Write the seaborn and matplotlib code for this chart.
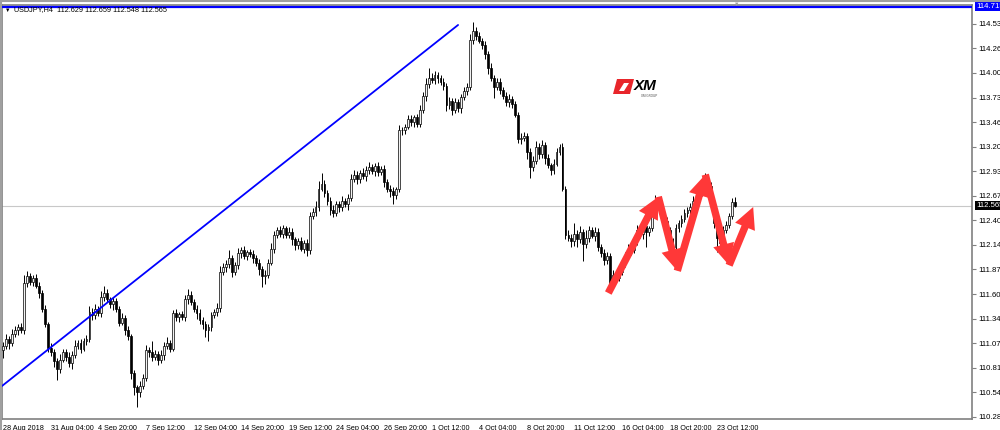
import pandas as pd
import seaborn as sns
import matplotlib.pyplot as plt
from matplotlib.lines import Line2D
from matplotlib.patches import Polygon

# USDJPY H4 closes (one value per bar)
closes = [
    111.05, 111.12, 111.08, 111.18, 111.22, 111.25, 111.22, 111.73, 111.80, 111.74,
    111.78, 111.70, 111.62, 111.45, 111.28, 111.03, 110.98, 110.88, 110.80, 110.90,
    110.98, 110.93, 110.86, 110.95, 111.05, 111.08, 111.02, 111.10, 111.12, 111.42,
    111.38, 111.45, 111.40, 111.58, 111.62, 111.55, 111.50, 111.53, 111.45, 111.30,
    111.35, 111.22, 111.15, 110.75, 110.60, 110.55, 110.62, 110.70, 111.00, 110.98,
    110.93, 110.96, 110.90, 110.95, 111.05, 111.08, 111.02, 111.40, 111.36, 111.39,
    111.36, 111.55, 111.60, 111.52, 111.45, 111.40, 111.33, 111.28, 111.22, 111.25,
    111.38, 111.42, 111.46, 111.85, 111.90, 111.93, 112.00, 111.85, 111.92, 112.05,
    112.08, 112.02, 112.06, 112.04, 112.00, 111.95, 111.88, 111.80, 111.82, 111.95,
    112.10, 112.25, 112.30, 112.26, 112.32, 112.25, 112.28, 112.20, 112.14, 112.18,
    112.10, 112.16, 112.08, 112.45, 112.50, 112.55, 112.75, 112.80, 112.70, 112.62,
    112.52, 112.48, 112.58, 112.55, 112.62, 112.58, 112.65, 112.85, 112.90, 112.85,
    112.92, 112.88, 112.95, 112.98, 112.94, 112.99, 112.93, 112.96, 112.82, 112.75,
    112.72, 112.68, 112.74, 113.38, 113.38, 113.42, 113.50, 113.47, 113.52, 113.45,
    113.60, 113.75, 113.88, 113.95, 113.92, 113.98, 113.94, 113.90, 113.86, 113.65,
    113.70, 113.60, 113.68, 113.62, 113.74, 113.80, 113.85, 114.36, 114.45, 114.40,
    114.35, 114.30, 114.20, 114.05, 113.95, 113.85, 113.90, 113.82, 113.75, 113.68,
    113.72, 113.66, 113.55, 113.28, 113.30, 113.32, 113.15, 112.98, 113.05, 113.20,
    113.12, 113.22, 113.08, 113.00, 112.95, 113.02, 113.15, 113.20, 112.75, 112.25,
    112.22, 112.18, 112.26, 112.20, 112.28, 112.15, 112.22, 112.30, 112.24, 112.28,
    112.12, 112.05, 111.98, 112.02, 111.70, 111.82, 111.78, 111.85, 111.95, 112.02,
    112.10, 112.08, 112.18, 112.30, 112.26, 112.35, 112.28, 112.32, 112.50, 112.62,
    112.58, 112.45, 112.40, 112.30, 112.18, 112.12, 112.32, 112.38, 112.42, 112.48,
    112.52, 112.55, 112.62, 112.66, 112.70, 112.76, 112.82, 112.78, 112.62, 112.38,
    112.22, 112.16, 112.30, 112.36, 112.45, 112.60, 112.565,
]
first_open = 111.00

# wick lengths in hundredths of a yen
wick_up = [
    4, 6, 3, 5, 4, 3, 5, 8, 6, 4,
    3, 5, 4, 3, 4, 3, 5, 3, 4, 6,
    4, 3, 5, 4, 6, 3, 4, 3, 5, 6,
    4, 5, 3, 6, 8, 4, 3, 5, 4, 3,
    5, 3, 4, 3, 4, 3, 5, 4, 6, 4,
    12, 4, 3, 5, 4, 6, 3, 4, 5, 3,
    4, 5, 6, 4, 3, 4, 5, 3, 4, 3,
    4, 3, 5, 6, 4, 5, 8, 3, 4, 6,
    4, 5, 3, 4, 5, 3, 4, 3, 5, 4,
    6, 4, 3, 5, 4, 3, 5, 4, 3, 4,
    5, 3, 4, 5, 4, 6, 8, 12, 4, 3,
    4, 5, 3, 4, 5, 3, 4, 6, 5, 4,
    3, 5, 4, 6, 3, 4, 5, 3, 4, 3,
    4, 5, 3, 6, 4, 3, 5, 4, 3, 4,
    5, 4, 6, 10, 5, 4, 3, 4, 5, 3,
    4, 3, 5, 4, 3, 5, 4, 6, 10, 5,
    4, 3, 5, 4, 6, 3, 4, 5, 3, 4,
    5, 3, 4, 3, 5, 4, 3, 4, 5, 6,
    4, 5, 3, 4, 3, 5, 4, 3, 4, 3,
    5, 4, 12, 4, 6, 3, 8, 4, 3, 5,
    4, 3, 5, 4, 3, 5, 4, 6, 3, 4,
    5, 3, 4, 6, 3, 5, 4, 3, 5, 6,
    4, 3, 5, 4, 3, 4, 5, 3, 4, 5,
    3, 4, 5, 3, 4, 6, 10, 5, 4, 3,
    4, 3, 5, 4, 3, 5, 6,
]
wick_dn = [
    8, 4, 6, 3, 4, 5, 3, 4, 5, 3,
    4, 3, 5, 4, 3, 5, 4, 6, 12, 4,
    3, 5, 4, 6, 3, 4, 5, 3, 4, 3,
    5, 4, 3, 4, 5, 3, 4, 6, 3, 4,
    3, 5, 4, 6, 8, 16, 5, 4, 3, 5,
    4, 3, 6, 4, 5, 3, 4, 3, 4, 5,
    3, 4, 5, 3, 4, 6, 4, 5, 8, 12,
    4, 3, 5, 4, 3, 5, 4, 6, 3, 4,
    5, 3, 4, 3, 5, 4, 6, 12, 8, 4,
    3, 5, 4, 3, 5, 4, 3, 6, 5, 4,
    3, 5, 6, 4, 3, 5, 4, 3, 4, 5,
    6, 4, 3, 5, 4, 3, 6, 4, 3, 5,
    4, 3, 5, 4, 3, 5, 4, 3, 5, 4,
    6, 10, 4, 3, 5, 4, 3, 4, 5, 3,
    4, 3, 5, 4, 3, 4, 5, 3, 4, 6,
    4, 5, 3, 4, 5, 3, 4, 3, 5, 4,
    3, 4, 5, 6, 4, 12, 4, 5, 3, 4,
    5, 4, 3, 4, 5, 4, 8, 12, 4, 3,
    5, 4, 6, 3, 5, 4, 3, 4, 3, 5,
    4, 6, 5, 8, 4, 18, 4, 5, 3, 6,
    5, 4, 6, 5, 6, 4, 5, 3, 4, 5,
    4, 5, 3, 4, 5, 6, 16, 4, 3, 4,
    5, 4, 3, 6, 4, 5, 3, 4, 5, 3,
    4, 5, 3, 4, 5, 3, 4, 5, 4, 6,
    16, 4, 5, 3, 4, 3, 2,
]

time_labels = ['28 Aug 2018', '31 Aug 04:00', '4 Sep 20:00', '7 Sep 12:00',
               '12 Sep 04:00', '14 Sep 20:00', '19 Sep 12:00', '24 Sep 04:00',
               '26 Sep 20:00', '1 Oct 12:00', '4 Oct 04:00', '8 Oct 20:00',
               '11 Oct 12:00', '16 Oct 04:00', '18 Oct 20:00', '23 Oct 12:00']
bars_per_label = 16
price_ticks = [114.530, 114.265, 114.000, 113.730, 113.465, 113.200, 112.935,
               112.670, 112.405, 112.140, 111.875, 111.605, 111.340, 111.075,
               110.810, 110.545, 110.280]

hline_price = 114.715
bid_price = 112.565
trend_bars = [-0.4, 152.9]
trend_prices = [110.615, 114.518]
zig_bars = [203.4, 220.2, 226.6, 236.0, 244.0, 252.1]
zig_prices = [111.62, 112.66, 111.86, 112.90, 111.92, 112.55]
header = 'USDJPY,H4  112.629 112.659 112.548 112.565'

# build OHLC table
df = pd.DataFrame({'close': closes})
df['bar'] = range(len(df))
df['open'] = [first_open] + closes[:-1]
df['high'] = df[['open', 'close']].max(axis=1) + pd.Series(wick_up) / 100
df['low'] = df[['open', 'close']].min(axis=1) - pd.Series(wick_dn) / 100
df['bull'] = df['close'] >= df['open']
df['body'] = (df['close'] - df['open']).abs().clip(lower=0.006)
df['bottom'] = df[['open', 'close']].min(axis=1)

sns.set_theme(style='white')
plt.rcParams['font.family'] = ['Liberation Sans', 'DejaVu Sans']

fig = plt.figure(figsize=(10, 4.3), dpi=100)
ax = fig.add_axes([0.002, 11 / 430, 0.970, 414 / 430])

# wicks then bodies
ax.vlines(df['bar'], df['low'], df['high'], color='black', lw=0.7, zorder=2)
bull = df[df['bull']]
bear = df[~df['bull']]
ax.bar(bull['bar'], bull['body'], bottom=bull['bottom'], width=0.62,
       color='#f2f2f2', edgecolor='black', linewidth=0.5, zorder=3)
ax.bar(bear['bar'], bear['body'], bottom=bear['bottom'], width=0.62,
       color='black', edgecolor='black', linewidth=0.5, zorder=3)

# lines
sns.lineplot(x=trend_bars, y=trend_prices, color='#0000ff', lw=1.3, ax=ax, zorder=4)
ax.axhline(hline_price, color='#0000ff', lw=1.6, zorder=4)
ax.axhline(bid_price, color='#c8c8c8', lw=0.8, zorder=1)

# zigzag arrows
for k in range(len(zig_bars) - 1):
    ax.annotate('', xy=(zig_bars[k + 1], zig_prices[k + 1]),
                xytext=(zig_bars[k], zig_prices[k]),
                arrowprops=dict(arrowstyle='simple,head_length=1.1,head_width=1.1,tail_width=0.38',
                                color='#ff3838', lw=0, mutation_scale=14,
                                shrinkA=0, shrinkB=0), zorder=5)

ax.set_xlim(-0.4, -0.4 + 970 / 2.975)
ax.set_ylim(110.258, 114.734)

ax.set_xticks([i * bars_per_label for i in range(len(time_labels))])
ax.set_xticklabels(time_labels, fontsize=5.2, ha='left')
ax.yaxis.tick_right()
ax.set_yticks(price_ticks)
ax.set_yticklabels([f'{p:.3f}' for p in price_ticks], fontsize=5.6)
ax.tick_params(axis='both', direction='out', length=3, width=0.8,
               color='#808080', labelcolor='black', pad=1.5)
ax.tick_params(axis='x', pad=1)
ax.set_xlabel('')
ax.set_ylabel('')
for s in ax.spines.values():
    s.set_color('#808080')
    s.set_linewidth(1.2)

# price boxes on the right axis
tr = ax.get_yaxis_transform()
ax.text(1.0045, hline_price, '114.715', transform=tr, fontsize=5.6, color='white',
        va='center', ha='left', clip_on=False,
        bbox=dict(boxstyle='square,pad=0.15', fc='#0000ff', ec='none'))
ax.text(1.0045, bid_price, f'{bid_price:.3f}', transform=tr, fontsize=5.6, color='white',
        va='center', ha='left', clip_on=False,
        bbox=dict(boxstyle='square,pad=0.15', fc='black', ec='none'))

# header and markers
fig.text(0.005, 1 - 10 / 430, '▼', fontsize=4, color='black', va='center')
fig.text(0.014, 1 - 10 / 430, header, fontsize=5.2, color='black', va='center')
fig.text(0.737, 1 - 4 / 430, '▼', fontsize=4, color='#a0a0a0', va='center', ha='center')

# window border
fig.add_artist(Line2D([0, 1], [1 - 0.8 / 430] * 2, color='#a0a0a0', lw=1.5))
fig.add_artist(Line2D([0.0005, 0.0005], [0, 1], color='#a0a0a0', lw=1.5))

# XM logo
W, H = 1000, 430
logo = [(613, 94), (617, 79), (634, 79), (630, 94)]
fig.add_artist(Polygon([(x / W, 1 - y / H) for x, y in logo], closed=True,
                       fc='#e8262b', ec='none', transform=fig.transFigure))
notch = [(619, 91), (624, 83), (629, 83), (624, 91)]
fig.add_artist(Polygon([(x / W, 1 - y / H) for x, y in notch], closed=True,
                       fc='white', ec='none', transform=fig.transFigure))
fig.text(634 / W, 1 - 86 / H, 'XM', fontsize=11, fontweight='bold', fontstyle='italic',
         color='black', va='center', ha='left')
fig.text(641 / W, 1 - 96 / H, 'XM GROUP', fontsize=2.2, color='#444444',
         va='center', ha='left')

fig.savefig('out.png', dpi=100)
